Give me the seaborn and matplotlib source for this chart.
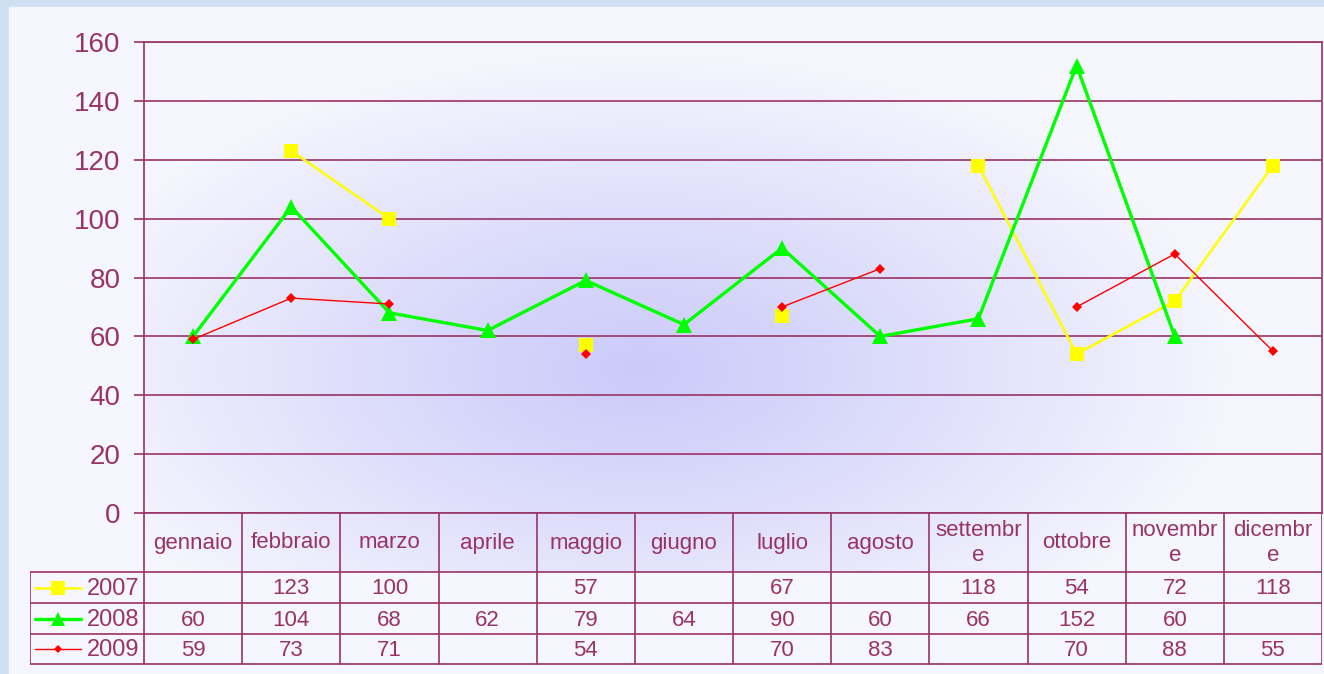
import numpy as np
import pandas as pd
import seaborn as sns
import matplotlib.pyplot as plt
from matplotlib.patches import Rectangle

months = ['gennaio', 'febbraio', 'marzo', 'aprile', 'maggio', 'giugno',
          'luglio', 'agosto', 'settembre', 'ottobre', 'novembre', 'dicembre']
header_labels = ['gennaio', 'febbraio', 'marzo', 'aprile', 'maggio', 'giugno',
                 'luglio', 'agosto', 'settembr\ne', 'ottobre', 'novembr\ne', 'dicembr\ne']
years = ['2007', '2008', '2009']
v2007 = [np.nan, 123, 100, np.nan, 57, np.nan, 67, np.nan, 118, 54, 72, 118]
v2008 = [60, 104, 68, 62, 79, 64, 90, 60, 66, 152, 60, np.nan]
v2009 = [59, 73, 71, np.nan, 54, np.nan, 70, 83, np.nan, 70, 88, 55]
yticks = [0, 20, 40, 60, 80, 100, 120, 140, 160]

# styles
txt = '#993366'
styles = {
    '2007': dict(color='#FFFF00', marker='s', markersize=10.5, linewidth=1.8),
    '2008': dict(color='#00FF00', marker='^', markersize=11, linewidth=2.4),
    '2009': dict(color='#FF0000', marker='D', markersize=5, linewidth=1.0),
}

# long table, a new segment after every gap so lines break like in Excel
rows = []
for yr, vals in zip(years, [v2007, v2008, v2009]):
    seg = 0
    for i, v in enumerate(vals):
        if np.isnan(v):
            seg += 1
            continue
        rows.append({'year': yr, 'x': i, 'value': v, 'seg': seg})
df = pd.DataFrame(rows)

sns.set_style('white')
plt.rcParams['font.family'] = ['Liberation Sans', 'DejaVu Sans']

W, H = 1324, 674
fig = plt.figure(figsize=(W / 100, H / 100), dpi=100, facecolor='#CFE0F3')
fig.patches.append(Rectangle((9 / W, 0), 1, 1 - 7 / H, transform=fig.transFigure,
                             color='#F6F6FE', zorder=-10))

L, R, T, B = 144, 1322, 42, 513
colw = (R - L) / 12

# radial-ish gradient behind plot area + header row
bg = fig.add_axes([L / W, 1 - 572 / H, (R - L) / W, (572 - T) / H], zorder=0)
gx = np.linspace(L, R, 500)
gy = np.linspace(T, 572, 250)
X, Y = np.meshgrid(gx, gy)
d = np.sqrt(((X - 640) / 600) ** 2 + ((Y - 370) / 320) ** 2)
d = np.clip(d, 0, 1) ** 1.1
c0 = np.array([203, 203, 250]) / 255
c1 = np.array([246, 246, 254]) / 255
bg.imshow(c0 + (c1 - c0) * d[..., None], aspect='auto', extent=(L, R, 572, T))
bg.axis('off')

# plot area
ax = fig.add_axes([L / W, 1 - B / H, (R - L) / W, (B - T) / H], zorder=1)
ax.patch.set_alpha(0)
for yr in years:
    st = styles[yr]
    sns.lineplot(data=df[df['year'] == yr], x='x', y='value', units='seg',
                 estimator=None, ax=ax, legend=False, markeredgewidth=0,
                 **st)
ax.set_xlim(-0.5, 11.5)
ax.set_ylim(0, 160)
ax.set_yticks(yticks)
ax.set_xticks([])
ax.set_xlabel('')
ax.set_ylabel('')
ax.yaxis.grid(True, color=txt, linewidth=1.2)
ax.set_axisbelow(True)
for s in ax.spines.values():
    s.set_color(txt)
    s.set_linewidth(1.2)
ax.tick_params(axis='y', direction='out', length=7, width=1.2, color=txt,
               labelcolor=txt, labelsize=20, pad=10, left=True)

# data table below the plot
tb = fig.add_axes([30 / W, 1 - 665 / H, (R - 30) / W, (665 - B) / H], zorder=2)
tb.set_xlim(30, R)
tb.set_ylim(665, B)
tb.axis('off')
lw = 1.2
for k in range(13):
    tb.plot([L + k * colw] * 2, [B, 664], color=txt, lw=lw)
tb.plot([30, 30], [572, 664], color=txt, lw=lw)
for yy in [572, 603, 634, 664]:
    tb.plot([30, R], [yy, yy], color=txt, lw=lw)

for i, lab in enumerate(header_labels):
    tb.text(L + (i + 0.5) * colw, 543, lab, ha='center', va='center',
            color=txt, fontsize=16, linespacing=1.2)

row_y = [588, 619, 649]
for yr, vals, ry in zip(years, [v2007, v2008, v2009], row_y):
    st = styles[yr]
    tb.plot([35, 81], [ry, ry], color=st['color'], lw=st['linewidth'])
    tb.plot([58], [ry], color=st['color'], marker=st['marker'],
            markersize=st['markersize'] * 0.9, markeredgewidth=0)
    tb.text(87, ry + 1, yr, ha='left', va='center', color=txt, fontsize=17)
    for i, v in enumerate(vals):
        if not np.isnan(v):
            tb.text(L + (i + 0.5) * colw, ry + 1, f'{int(v)}', ha='center',
                    va='center', color=txt, fontsize=16)

fig.savefig('out.png', dpi=100, facecolor=fig.get_facecolor())
